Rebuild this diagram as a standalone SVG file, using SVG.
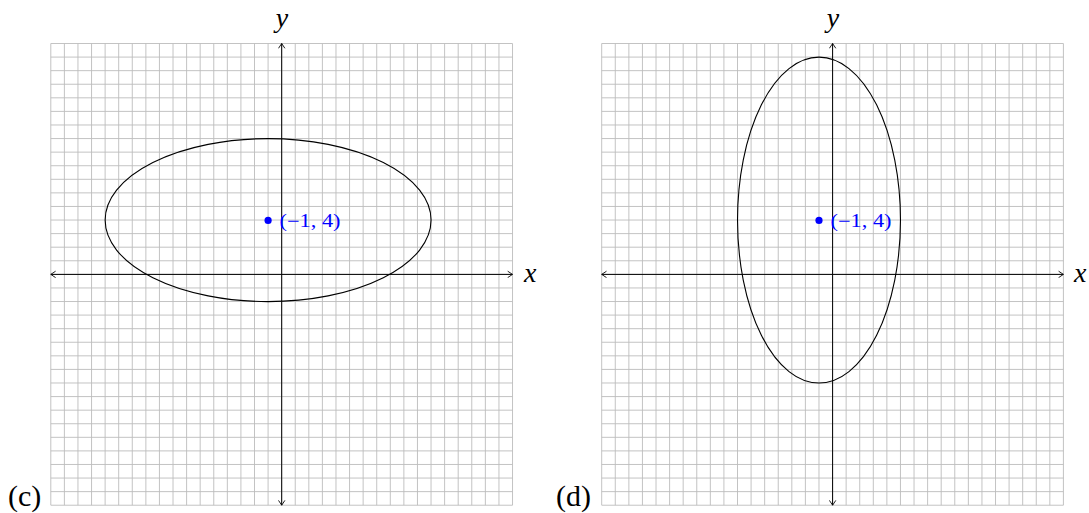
<svg xmlns="http://www.w3.org/2000/svg" width="1089" height="513" viewBox="0 0 1089 513">
<defs>
<path id="gridlines" d="M0 0v461.7m13.58 -461.7v461.7m13.58 -461.7v461.7m13.58 -461.7v461.7m13.58 -461.7v461.7m13.58 -461.7v461.7m13.58 -461.7v461.7m13.58 -461.7v461.7m13.58 -461.7v461.7m13.58 -461.7v461.7m13.58 -461.7v461.7m13.58 -461.7v461.7m13.58 -461.7v461.7m13.58 -461.7v461.7m13.58 -461.7v461.7m13.58 -461.7v461.7m13.58 -461.7v461.7m13.58 -461.7v461.7m13.58 -461.7v461.7m13.58 -461.7v461.7m13.58 -461.7v461.7m13.58 -461.7v461.7m13.58 -461.7v461.7m13.58 -461.7v461.7m13.58 -461.7v461.7m13.58 -461.7v461.7m13.58 -461.7v461.7m13.58 -461.7v461.7m13.58 -461.7v461.7m13.58 -461.7v461.7m13.58 -461.7v461.7m13.58 -461.7v461.7m13.58 -461.7v461.7m13.58 -461.7v461.7m13.58 -461.7v461.7M0 0h461.7m-461.7 13.58h461.7m-461.7 13.58h461.7m-461.7 13.58h461.7m-461.7 13.58h461.7m-461.7 13.58h461.7m-461.7 13.58h461.7m-461.7 13.58h461.7m-461.7 13.58h461.7m-461.7 13.58h461.7m-461.7 13.58h461.7m-461.7 13.58h461.7m-461.7 13.58h461.7m-461.7 13.58h461.7m-461.7 13.58h461.7m-461.7 13.58h461.7m-461.7 13.58h461.7m-461.7 13.58h461.7m-461.7 13.58h461.7m-461.7 13.58h461.7m-461.7 13.58h461.7m-461.7 13.58h461.7m-461.7 13.58h461.7m-461.7 13.58h461.7m-461.7 13.58h461.7m-461.7 13.58h461.7m-461.7 13.58h461.7m-461.7 13.58h461.7m-461.7 13.58h461.7m-461.7 13.58h461.7m-461.7 13.58h461.7m-461.7 13.58h461.7m-461.7 13.58h461.7m-461.7 13.58h461.7m-461.7 13.58h461.7"/>
<marker id="arr" viewBox="0 0 10 10" refX="9" refY="5" markerWidth="8" markerHeight="8" markerUnits="userSpaceOnUse" orient="auto-start-reverse">
<path d="M3 1L9 5L3 9" fill="none" stroke="#000" stroke-width="1.1"/>
</marker>
</defs>
<style>
.grid{stroke:#bcbcbc;stroke-width:0.9;fill:none}
.axis{stroke:#000;stroke-width:1;fill:none}
.ell{stroke:#000;stroke-width:1.1;fill:none}
.lab{font-family:"Liberation Serif",serif;font-style:italic;font-size:28px;fill:#000}
.cap{font-family:"Liberation Serif",serif;font-size:30px;fill:#000}
.pt{font-family:"Liberation Serif",serif;font-size:18px;fill:#0000ff}
</style>
<rect width="1089" height="513" fill="#fff"/>
<g id="panel-c">
<use href="#gridlines" class="grid" transform="translate(50.8 43.5)"/>
<text class="cap" x="8" y="506">(c)</text>
</g>
<g id="panel-d">
<use href="#gridlines" class="grid" transform="translate(601.7 43.5)"/>
<text class="cap" x="556" y="506">(d)</text>
</g>
<g id="connectors">
<line class="axis" x1="50.8" y1="274.4" x2="512.5" y2="274.4" marker-start="url(#arr)" marker-end="url(#arr)"/>
<line class="axis" x1="281.7" y1="505.2" x2="281.7" y2="43.5" marker-start="url(#arr)" marker-end="url(#arr)"/>
<line class="axis" x1="601.7" y1="274.4" x2="1063.4" y2="274.4" marker-start="url(#arr)" marker-end="url(#arr)"/>
<line class="axis" x1="832.6" y1="505.2" x2="832.6" y2="43.5" marker-start="url(#arr)" marker-end="url(#arr)"/>
</g>
<g id="labels-c">
<text class="lab" x="524" y="281.5">x</text>
<text class="lab" x="282" y="27" text-anchor="middle">y</text>
</g>
<g id="labels-d">
<text class="lab" x="1074" y="281.5">x</text>
<text class="lab" x="833" y="27" text-anchor="middle">y</text>
</g>
<g id="ellipse-c">
<ellipse class="ell" cx="268.1" cy="220.1" rx="162.96" ry="81.48"/>
</g>
<g id="ellipse-d">
<ellipse class="ell" cx="819.0" cy="220.1" rx="81.48" ry="162.96"/>
</g>
<g id="point-c">
<circle cx="268.1" cy="220.4" r="3.6" fill="#0000ff"/>
<text class="pt" x="279.5" y="226.5" textLength="61" lengthAdjust="spacingAndGlyphs">(−1, 4)</text>
</g>
<g id="point-d">
<circle cx="819.0" cy="220.4" r="3.6" fill="#0000ff"/>
<text class="pt" x="830.5" y="226.5" textLength="61" lengthAdjust="spacingAndGlyphs">(−1, 4)</text>
</g>
</svg>
